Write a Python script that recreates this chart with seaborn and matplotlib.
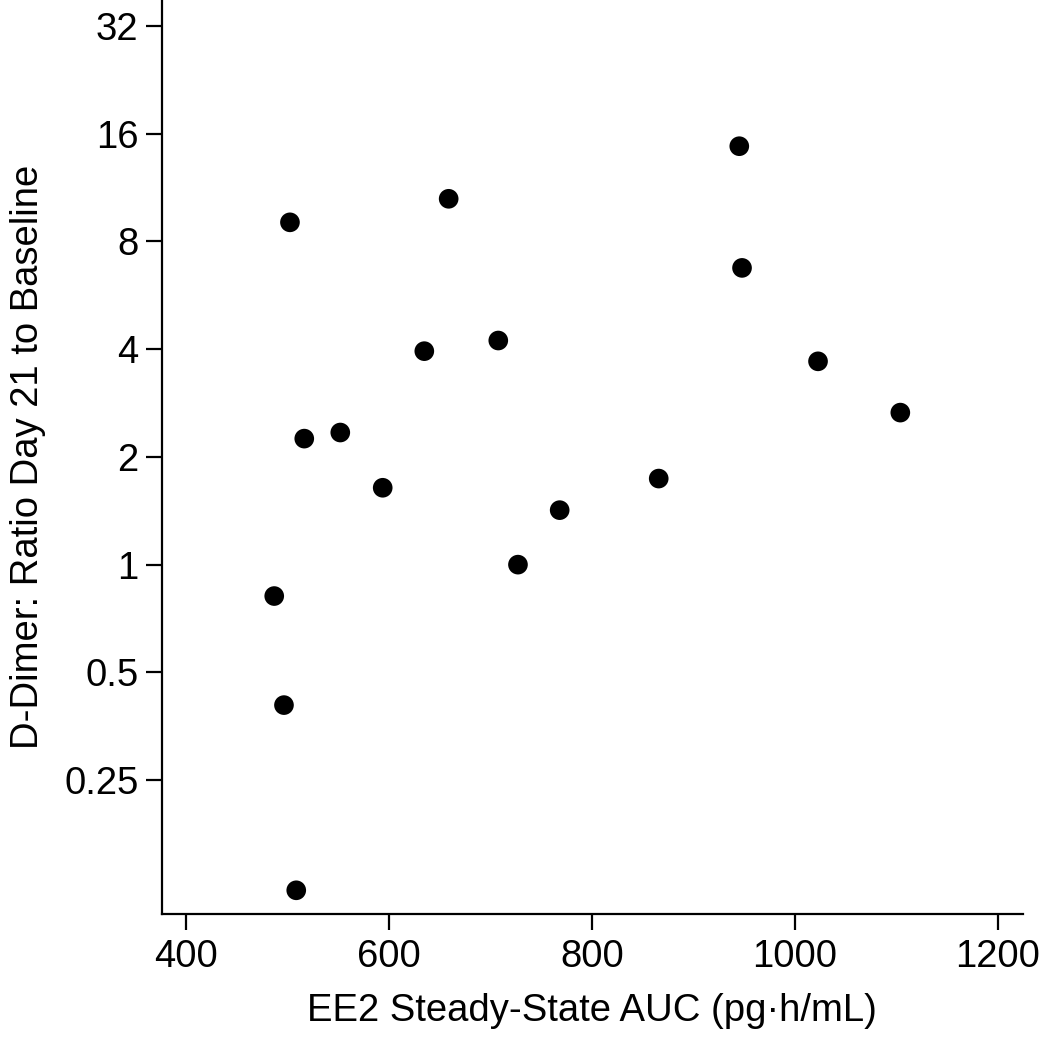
import matplotlib
matplotlib.use("Agg")
import matplotlib.pyplot as plt
import seaborn as sns
import numpy as np
import pandas as pd
from matplotlib.ticker import FixedLocator, FixedFormatter, NullLocator

# Data
auc = [502.5, 658.9, 634.9, 707.8, 516.6, 552.1, 593.9, 945.3, 948.0,
       1022.9, 1104.0, 865.9, 768.3, 727.2, 487.0, 496.6, 508.7]
ddimer_ratio = [9.05, 10.53, 3.95, 4.23, 2.25, 2.34, 1.64, 14.77, 6.75,
                3.70, 2.66, 1.74, 1.42, 1.00, 0.817, 0.405, 0.123]

x_ticks = [400, 600, 800, 1000, 1200]
y_ticks = [0.25, 0.5, 1, 2, 4, 8, 16, 32]
y_tick_labels = ["0.25", "0.5", "1", "2", "4", "8", "16", "32"]

x_label = "EE2 Steady-State AUC (pg\u00b7h/mL)"
y_label = "D-Dimer: Ratio Day 21 to Baseline"

df = pd.DataFrame({"auc": auc, "ratio": ddimer_ratio})

sns.set_theme(style="ticks")
plt.rcParams["font.family"] = ["Liberation Sans", "DejaVu Sans"]

fig = plt.figure(figsize=(10.5, 10.46), dpi=100)
ax = fig.add_axes([162 / 1050, 1 - 913.7 / 1046, (1022.7 - 162) / 1050, (913.7 - 1) / 1046])

sns.scatterplot(data=df, x="auc", y="ratio", ax=ax, color="black",
                s=200, edgecolor="none", linewidth=0, legend=False)

ax.set_yscale("log", base=2)
ax.set_xlim(376.4, 1224.6)
ax.set_ylim(0.1058, 37.6)

ax.xaxis.set_major_locator(FixedLocator(x_ticks))
ax.yaxis.set_major_locator(FixedLocator(y_ticks))
ax.yaxis.set_major_formatter(FixedFormatter(y_tick_labels))
ax.yaxis.set_minor_locator(NullLocator())
ax.xaxis.set_minor_locator(NullLocator())

for side in ["top", "right"]:
    ax.spines[side].set_visible(False)
for side in ["left", "bottom"]:
    ax.spines[side].set_linewidth(1.6)
    ax.spines[side].set_color("black")

ax.tick_params(axis="both", which="major", length=11.5, width=1.6,
               color="black", labelsize=27.5, labelcolor="black", pad=6.5)
ax.tick_params(axis="y", pad=5.5)

ax.set_xlabel(x_label, fontsize=27.5, color="black", labelpad=13)
ax.set_ylabel(y_label, fontsize=27.5, color="black", labelpad=13)

fig.savefig("out.png", dpi=100, facecolor="white")
